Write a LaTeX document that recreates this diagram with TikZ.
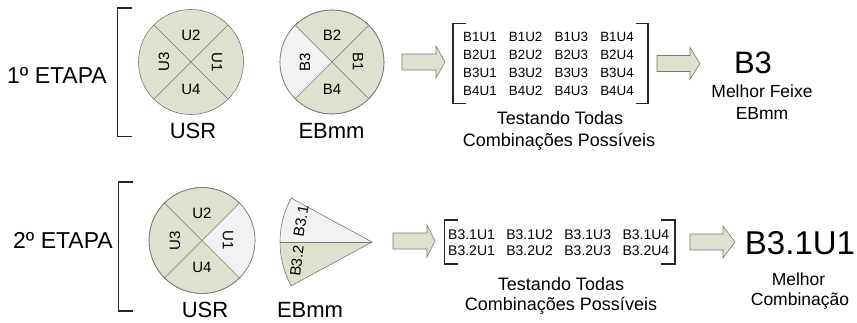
\documentclass[tikz,border=0pt]{standalone}
\usepackage{fontspec}
\setmainfont{Liberation Sans}
\definecolor{sgreen}{RGB}{221,226,207}
\definecolor{slight}{RGB}{242,242,242}
\definecolor{sline}{RGB}{120,120,120}
\newcommand\fsz[1]{\fontsize{#1}{#1}\selectfont}
\begin{document}
\begin{tikzpicture}[x=1pt,y=1pt,
  disc/.style={circle,draw=sline,line width=0.6pt,outer sep=0pt,inner sep=0pt,minimum size=#1},
  divline/.style={draw=sline,line width=0.6pt},
  seclab/.style={font=\fsz{15},inner sep=0pt},
  barrow/.style={fill=sgreen,draw=sline,line width=0.6pt},
  brk/.style={draw=black!85,line width=1.1pt},
  cell/.style={font=\fsz{13.4},anchor=base west,inner sep=0pt},
  cellb/.style={font=\fsz{14},anchor=base west,inner sep=0pt},
  captxt/.style={font=\fsz{18},anchor=base,inner sep=0pt},
  midtxt/.style={font=\fsz{22},anchor=base,inner sep=0pt},
  bigtxt/.style={anchor=base,inner sep=0pt}]
\useasboundingbox (0,0) rectangle (857,322);

% ---------------- Stage 1 ----------------
\node[font=\fsz{23},anchor=base west,inner sep=0pt] (et1) at (7,238) {1º ETAPA};
\draw[brk] (132,314) -- (117.3,314) -- (117.3,185.3) -- (132,185.3);

% USR circle
\node[disc=105,fill=sgreen] (usr1) at (191,260) {};
\draw[divline] (usr1.45) -- (usr1.225);
\draw[divline] (usr1.135) -- (usr1.315);
\node[seclab] (u2a) at ([shift={(0,27)}]usr1.center) {U2};
\node[seclab] (u4a) at ([shift={(0,-27)}]usr1.center) {U4};
\node[seclab,rotate=90] (u3a) at ([shift={(-27,0)}]usr1.center) {U3};
\node[seclab,rotate=-90] (u1a) at ([shift={(26,0)}]usr1.center) {U1};
\node[midtxt] (usrl1) at (193,184) {USR};

% EBmm circle
\node[disc=104,fill=sgreen] (eb1) at (332,260) {};
\fill[slight] (eb1.center) -- (eb1.135) arc[start angle=135,end angle=225,radius=52] -- cycle;
\node[disc=104] at (eb1.center) {};
\draw[divline] (eb1.45) -- (eb1.225);
\draw[divline] (eb1.135) -- (eb1.315);
\node[seclab] (b2a) at ([shift={(0,27)}]eb1.center) {B2};
\node[seclab] (b4a) at ([shift={(0,-27)}]eb1.center) {B4};
\node[seclab,rotate=90] (b3a) at ([shift={(-27,0)}]eb1.center) {B3};
\node[seclab,rotate=-90] (b1a) at ([shift={(26,0)}]eb1.center) {B1};
\node[midtxt] (ebl1) at (331.5,184) {EBmm};

% arrow 1
\filldraw[barrow] (402,252) -- (436,252) -- (436,244) -- (445,260) -- (436,276) -- (436,268) -- (402,268) -- cycle;

% matrix 1
\draw[brk] (466,298.7) -- (453,298.7) -- (453,218.7) -- (466,218.7);
\draw[brk] (636,298.7) -- (648,298.7) -- (648,218.7) -- (636,218.7);
\foreach \r in {1,2,3,4}{
  \foreach \c in {1,2,3,4}{
    \node[cell] (ma\r\c) at ({463+(\c-1)*45.7},{280-(\r-1)*17.7}) {B\r U\c};
  }
}
\node[captxt] (t1a) at (560,198) {Testando Todas};
\node[captxt] (t1b) at (559,175.5) {Combinações Possíveis};

% arrow 2
\filldraw[barrow] (657,250.5) -- (690,250.5) -- (690,242.5) -- (700,258.5) -- (690,274.5) -- (690,266.5) -- (657,266.5) -- cycle;

\node[bigtxt,font=\fsz{31}] (res1) at (753,248) {B3};
\node[captxt,font=\fsz{17.5}] (res1a) at (762,224) {Melhor Feixe};
\node[captxt,font=\fsz{17.5}] (res1b) at (762,203) {EBmm};

% ---------------- Stage 2 ----------------
\node[font=\fsz{23},anchor=base west,inner sep=0pt] (et2) at (13,73.5) {2º ETAPA};
\draw[brk] (133,140) -- (118.3,140) -- (118.3,11) -- (133,11);

% USR circle 2
\node[disc=106,fill=sgreen] (usr2) at (202,81.5) {};
\fill[slight] (usr2.center) -- (usr2.-45) arc[start angle=-45,end angle=45,radius=53] -- cycle;
\node[disc=106] at (usr2.center) {};
\draw[divline] (usr2.45) -- (usr2.225);
\draw[divline] (usr2.135) -- (usr2.315);
\node[seclab] (u2b) at ([shift={(0,27)}]usr2.center) {U2};
\node[seclab] (u4b) at ([shift={(0,-27)}]usr2.center) {U4};
\node[seclab,rotate=90] (u3b) at ([shift={(-27,0)}]usr2.center) {U3};
\node[seclab,rotate=-90] (u1b) at ([shift={(26,0)}]usr2.center) {U1};
\node[midtxt] (usrl2) at (205,5) {USR};

% fan
\coordinate (apex) at (372,80);
\fill[slight] (apex) -- ++(151.5:92) arc[start angle=151.5,end angle=180,radius=92] -- cycle;
\fill[sgreen] (apex) -- ++(180:92) arc[start angle=180,end angle=208.5,radius=92] -- cycle;
\draw[divline] (apex) -- ++(151.5:92) arc[start angle=151.5,end angle=208.5,radius=92] -- cycle;
\draw[divline] (apex) -- ++(180:92);
\node[seclab,rotate=80] (b31) at (301,101) {B3.1};
\node[seclab,rotate=83] (b32) at (297,61) {B3.2};
\node[midtxt] (ebl2) at (310,5) {EBmm};

% arrow 3
\filldraw[barrow] (393,73) -- (427,73) -- (427,65) -- (435,81) -- (427,97) -- (427,89) -- (393,89) -- cycle;

% matrix 2
\draw[brk] (458,102) -- (444.3,102) -- (444.3,58) -- (458,58);
\draw[brk] (661,102) -- (675,102) -- (675,58) -- (661,58);
\foreach \r in {1,2}{
  \foreach \c in {1,2,3,4}{
    \node[cellb] (mb\r\c) at ({448+(\c-1)*58.1},{82.7-(\r-1)*15.7}) {B3.\r U\c};
  }
}
\node[captxt] (t2a) at (561,32) {Testando Todas};
\node[captxt] (t2b) at (561,12) {Combinações Possíveis};

% arrow 4
\filldraw[barrow] (690,72) -- (723,72) -- (723,64) -- (735,80) -- (723,96) -- (723,88) -- (690,88) -- cycle;

\node[bigtxt,font=\fsz{33}] (res2) at (800,68) {B3.1U1};
\node[captxt,font=\fsz{17.5}] (res2a) at (798.5,37) {Melhor};
\node[captxt,font=\fsz{17.5}] (res2b) at (800,17) {Combinação};
\end{tikzpicture}
\end{document}
